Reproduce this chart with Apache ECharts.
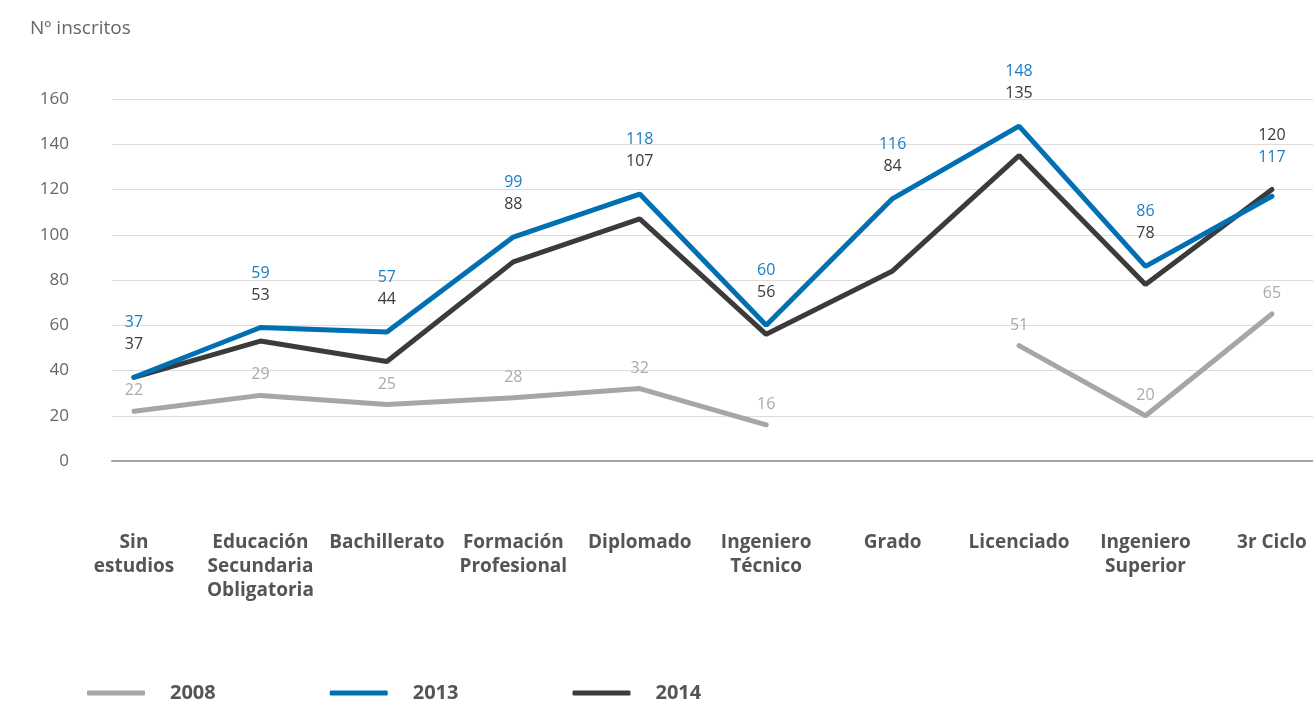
<!DOCTYPE html>
<html lang="es">
<head>
    <meta charset="UTF-8">
    <script src="https://cdn.jsdelivr.net/npm/echarts@6/dist/echarts.min.js"></script>
    <title>Nº inscritos</title>
    <style>
        html, body { margin: 0; padding: 0; background: #fff; }
    </style>
</head>
<body>
    <div id="main" style="width:1313px;height:702px"></div>
    <script>
        var categories = ['Sin\nestudios', 'Educación\nSecundaria\nObligatoria', 'Bachillerato',
            'Formación\nProfesional', 'Diplomado', 'Ingeniero\nTécnico', 'Grado', 'Licenciado',
            'Ingeniero\nSuperior', '3r Ciclo'];
        var years = ['2008', '2013', '2014'];
        var v2008 = [22, 29, 25, 28, 32, 16, null, 51, 20, 65];
        var v2013 = [37, 59, 57, 99, 118, 60, 116, 148, 86, 117];
        var v2014 = [37, 53, 44, 88, 107, 56, 84, 135, 78, 120];
        var yTicks = [0, 20, 40, 60, 80, 100, 120, 140, 160];

        var font = '"Open Sans", Lato, sans-serif';
        var colors = ['#a8a5a3', '#0070b2', '#3b3b3b'];
        var labelColors = ['#aaaaaa', '#1a7ec2', '#3a3a3a'];

        var main = document.getElementById('main');
        var chart = echarts.init(main);

        function pairs(arr) {
            return arr.map(function (v, i) { return [i, v]; });
        }

        function lineSeries(name, idx, arr) {
            return {
                name: name,
                type: 'line',
                data: pairs(arr),
                symbol: 'circle',
                symbolSize: 1,
                connectNulls: false,
                lineStyle: { width: 5, color: colors[idx], cap: 'round' },
                itemStyle: { color: colors[idx] },
                label: {
                    show: true,
                    position: 'top',
                    distance: 12,
                    fontFamily: font,
                    fontSize: 16,
                    color: labelColors[idx],
                    formatter: function (p) { return p.value[1]; }
                },
                emphasis: { disabled: true },
                z: idx === 1 ? 3 : 2
            };
        }

        var option = {
            animation: false,
            title: {
                text: 'Nº inscritos',
                left: 25,
                top: 14,
                textStyle: { fontFamily: font, fontSize: 19, fontWeight: 'normal', color: '#666' }
            },
            legend: {
                left: 82,
                top: 678,
                itemWidth: 58,
                itemHeight: 5,
                itemGap: 114,
                icon: 'roundRect',
                data: years,
                textStyle: {
                    fontFamily: font, fontSize: 20, fontWeight: 'bold', color: '#555',
                    padding: [0, 0, 0, 20]
                }
            },
            grid: { left: 112, right: 0, top: 99, bottom: 241 },
            xAxis: {
                type: 'value',
                min: -0.174,
                max: 9.325,
                splitLine: { show: false },
                axisTick: { show: false },
                axisLine: { show: true, onZero: false, lineStyle: { color: '#a3a3a3', width: 2 } },
                axisLabel: {
                    customValues: categories.map(function (c, i) { return i; }),
                    formatter: function (v) { return categories[Math.round(v)]; },
                    margin: 70,
                    verticalAlign: 'top',
                    lineHeight: 24,
                    fontFamily: font,
                    fontSize: 19,
                    fontWeight: 'bold',
                    color: '#555'
                }
            },
            yAxis: {
                type: 'value',
                min: yTicks[0],
                max: yTicks[yTicks.length - 1],
                interval: 20,
                axisLine: { show: false },
                axisTick: { show: false },
                splitLine: { lineStyle: { color: '#dcdcdc', width: 1 } },
                axisLabel: {
                    margin: 43,
                    fontFamily: font,
                    fontSize: 17,
                    color: '#666'
                }
            },
            series: [
                lineSeries('2008', 0, v2008),
                lineSeries('2013', 1, v2013),
                lineSeries('2014', 2, v2014)
            ]
        };
        chart.setOption(option);

        // stack the 2013 / 2014 value labels above the higher point of each category
        function py(v) { return chart.convertToPixel({ yAxisIndex: 0 }, v); }
        var d13 = [], d14 = [];
        categories.forEach(function (c, i) {
            var y13 = py(v2013[i]), y14 = py(v2014[i]);
            var topY = Math.min(y13, y14);
            if (v2013[i] >= v2014[i]) {
                d13.push({ value: [i, v2013[i]], label: { distance: y13 - topY + 46 } });
                d14.push({ value: [i, v2014[i]], label: { distance: y14 - topY + 24 } });
            } else {
                d13.push({ value: [i, v2013[i]], label: { distance: y13 - topY + 24 } });
                d14.push({ value: [i, v2014[i]], label: { distance: y14 - topY + 46 } });
            }
        });
        chart.setOption({
            series: [
                { name: '2013', data: d13 },
                { name: '2014', data: d14 }
            ]
        });
    </script>
</body>
</html>
